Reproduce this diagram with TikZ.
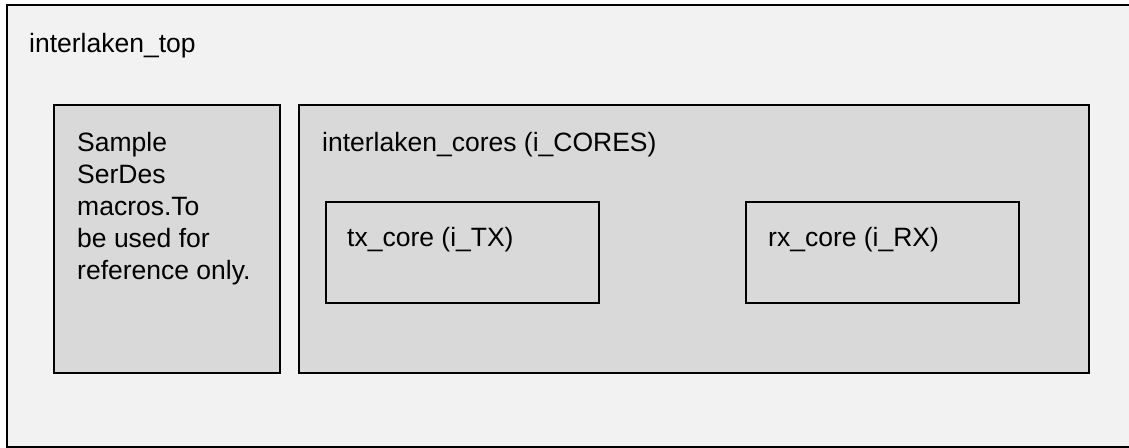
\documentclass[tikz,border=0pt]{standalone}
\usepackage{fontspec}
\setmainfont{Liberation Sans}
\usetikzlibrary{positioning}

\definecolor{topgray}{HTML}{F2F2F2}
\definecolor{blockgray}{HTML}{D9D9D9}

\tikzset{
	block/.style={draw=black, line width=2pt, fill=blockgray},
	lbl/.style={anchor=base west, inner sep=0pt, font=\fontsize{26.5}{32}\selectfont}
}

\begin{document}
\begin{tikzpicture}[x=1pt, y=-1pt]
	\useasboundingbox (0,0) rectangle (1129,447);
	\clip (0,0) rectangle (1129,447);
	% top level
	\draw[draw=black, line width=2.5pt, fill=topgray] (7,5) rectangle (1140,447);
	\node[lbl] (toplbl) at (29,52) {interlaken\_top};
	% serdes placeholder (base = last line)
	\draw[block] (54,105) rectangle (280,373);
	\node[lbl, align=left] (serdes) at (77,279) {Sample\\SerDes\\macros.To\\be used for\\reference only.};
	% cores wrapper
	\draw[block] (299,105) rectangle (1089,373);
	\node[lbl] (cores) at (322,151) {interlaken\_cores (i\_CORES)};
	\draw[block] (326,202) rectangle (599,303);
	\node[lbl] (tx) at (347,246) {tx\_core (i\_TX)};
	\draw[block] (746,202) rectangle (1019,303);
	\node[lbl] (rx) at (768,246) {rx\_core (i\_RX)};
\end{tikzpicture}
\end{document}
